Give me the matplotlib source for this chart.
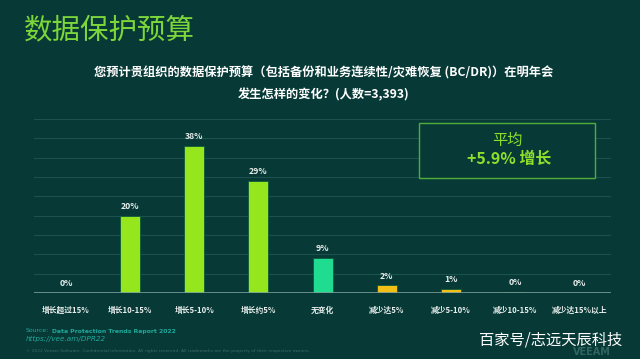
import matplotlib.pyplot as plt
import numpy as np

plt.rcParams['font.family'] = ['Noto Sans CJK SC', 'DejaVu Sans']

# chart data
categories = ['增长超过15%', '增长10-15%', '增长5-10%', '增长约5%', '无变化',
              '减少达5%', '减少5-10%', '减少10-15%', '减少达15%以上']
values = [0, 20, 38, 29, 9, 2, 1, 0.3, 0]
value_labels = ['0%', '20%', '38%', '29%', '9%', '2%', '1%', '0%', '0%']
groups = ['up', 'up', 'up', 'up', 'flat', 'down', 'down', 'down', 'down']

bg = '#073a37'
group_colors = {'up': '#96e61e', 'flat': '#1fdc90', 'down': '#f2bf16'}
colors = [group_colors[g] for g in groups]

fig = plt.figure(figsize=(6.4, 3.59), dpi=100, facecolor=bg)
ax = fig.add_axes([0.053, 0.184, 0.902, 0.485], facecolor=bg)

x = np.arange(len(categories))
ax.bar(x, values, width=0.31, color=colors, edgecolor='#0d5a3a', linewidth=0.6, zorder=3)

for xi, v, lab in zip(x, values, value_labels):
    ax.text(xi, v + 1.2, lab, ha='center', va='bottom', color='#e8eeec',
            fontsize=6.2, fontweight='bold', zorder=4)

ax.set_xlim(-0.5, len(categories) - 0.5)
ax.set_ylim(0, 45)
ax.set_yticks(np.arange(5, 46, 5))
ax.grid(axis='y', color='#1c524d', linewidth=0.8, zorder=0)
ax.axhline(0, color='#7a9c98', linewidth=1.2, zorder=5)
ax.tick_params(axis='y', left=False, labelleft=False)
ax.tick_params(axis='x', bottom=False, pad=6)
ax.set_xticks(x)
ax.set_xticklabels(categories, color='#e8eeec', fontsize=5.6, fontweight='bold')
for s in ax.spines.values():
    s.set_visible(False)

# titles
fig.text(0.038, 0.915, '数据保护预算', color='#7dd63a', fontsize=20.5,
         ha='left', va='center')
fig.text(0.505, 0.797, '您预计贵组织的数据保护预算（包括备份和业务连续性/灾难恢复 (BC/DR)）在明年会',
         color='white', fontsize=8.8, fontweight='bold', ha='center', va='center')
fig.text(0.505, 0.737, '发生怎样的变化？(人数=3,393)',
         color='white', fontsize=8.8, fontweight='bold', ha='center', va='center')

# average callout box
box = plt.Rectangle((419 / 640, 1 - 178 / 359), 176 / 640, 55 / 359,
                    transform=fig.transFigure, facecolor=bg,
                    edgecolor='#4fae3a', linewidth=1.0, zorder=6)
fig.add_artist(box)
fig.text(507 / 640, 1 - 140 / 359, '平均', color='#8ee02a', fontsize=11,
         ha='center', va='center', zorder=7)
fig.text(509 / 640, 1 - 159 / 359, '+5.9% 增长', color='#8ee02a', fontsize=11.5,
         fontweight='bold', ha='center', va='center', zorder=7)

# footer
src = fig.text(0.04, 1 - 331 / 359, 'Source:', color='#1fa89a', fontsize=4.4,
               family='DejaVu Sans', ha='left', va='center')
fig.add_artist(plt.Annotation('Data Protection Trends Report 2022', xy=(1, 0.5),
               xycoords=src, xytext=(2.5, 0), textcoords='offset points',
               color='#1fa89a', fontsize=4.4, fontweight='bold',
               family='DejaVu Sans', ha='left', va='center'))
fig.text(0.04, 1 - 339 / 359, 'https://vee.am/DPR22', color='#1fa89a', fontsize=5.2,
         style='italic', family='DejaVu Sans', ha='left', va='center')
fig.text(0.04, 1 - 351 / 359,
         '© 2022 Veeam Software. Confidential information. All rights reserved. '
         'All trademarks are the property of their respective owners.',
         color='#3f6b66', fontsize=3.2, family='DejaVu Sans', ha='left', va='center')
fig.text(0.925, 1 - 352 / 359, 'VEEAM', color='#2f6560', fontsize=7,
         fontweight='bold', family='DejaVu Sans', ha='center', va='center')
fig.text(0.86, 1 - 340 / 359, '百家号/志远天辰科技', color='white', fontsize=11,
         ha='center', va='center')

fig.savefig('out.png', dpi=100, facecolor=bg)
